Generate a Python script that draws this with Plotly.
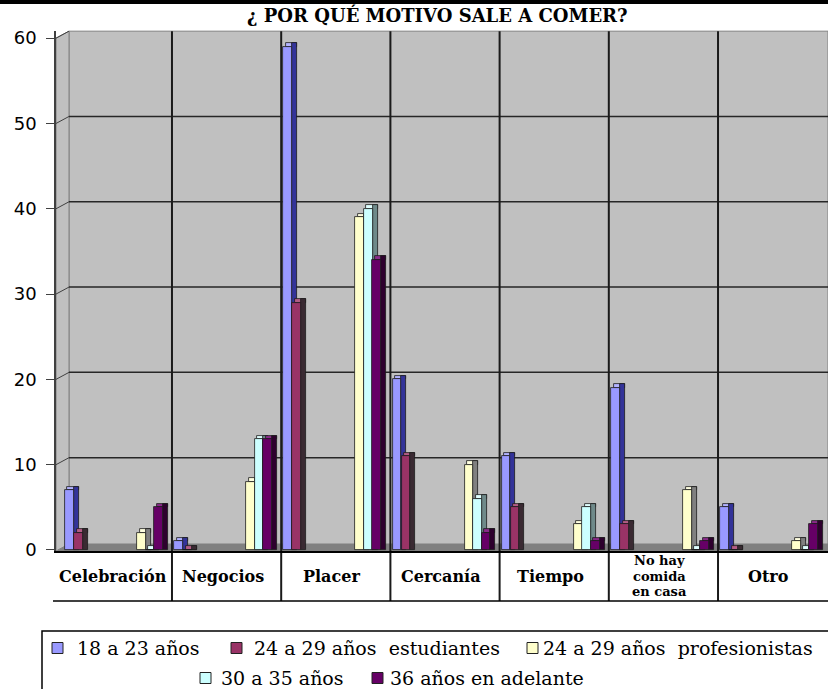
import plotly.graph_objects as go

# ---- data -----------------------------------------------------------------
CATEGORIES = ["Celebración", "Negocios", "Placer", "Cercanía", "Tiempo",
              "No hay comida en casa", "Otro"]
SERIES = ["18 a 23 años", "24 a 29 años\u00a0 estudiantes",
          "24 a 29 años\u00a0 profesionistas", "30 a 35 años",
          "36 años en adelante"]
V_18_23 = [7, 1, 59, 20, 11, 19, 5]
V_24_29_EST = [2, 0, 29, 11, 5, 3, 0]
V_24_29_PROF = [2, 8, 39, 10, 3, 7, 1]
V_30_35 = [0, 13, 40, 6, 5, 0, 0]
V_36_MAS = [5, 13, 34, 2, 1, 1, 3]
Y_TICKS = [0, 10, 20, 30, 40, 50, 60]
TITLE = "¿ POR QUÉ MOTIVO SALE A COMER?"

VALUES = [V_18_23, V_24_29_EST, V_24_29_PROF, V_30_35, V_36_MAS]

# ---- styling ----------------------------------------------------------------
FRONT = ["#9999FF", "#993366", "#FFFFCC", "#CCFFFF", "#660066"]
SIDE = ["#333399", "#3a2a32", "#808080", "#6f8a8a", "#2e002e"]
CAP = ["#b3b3ff", "#b35c85", "#ffffe0", "#e0ffff", "#8a2a8a"]
OFFSETS = [-0.48, -0.397, 0.18, 0.258, 0.336]
BAR_W = 0.079

W, H = 828, 689
PL, PR, PT, PB = 56, 828, 31, 551
X_RANGE = [-0.562, 6.507]
Y_RANGE = [-0.12, 60.84]
DEPTH_X, DEPTH_Y = 13, 7          # wall depth in pixels
SX = (PR - PL) / (X_RANGE[1] - X_RANGE[0])
SY = (PB - PT) / (Y_RANGE[1] - Y_RANGE[0])
DX = 5 / SX                       # bar side depth (x units)
DY = 3.5 / SY                     # bar side depth (y units)


def px_x(v):
    return PL + (v - X_RANGE[0]) * SX


def px_y(v):
    return PB - (v - Y_RANGE[0]) * SY


def pa_x(px):
    return (px - PL) / (PR - PL)


def pa_y(py):
    return (PB - py) / (PB - PT)


def path(points):
    s = "M " + " L ".join(f"{pa_x(x):.5f},{pa_y(y):.5f}" for x, y in points)
    return s + " Z"


fig = go.Figure()
xs = list(range(len(CATEGORIES)))

for i, vals in enumerate(VALUES):
    outline = dict(color="#1a1a1a", width=0.8)
    # top face
    fig.add_trace(go.Bar(
        x=xs, y=[DY] * len(xs), base=vals, width=BAR_W + DX / 2,
        offset=OFFSETS[i] + DX / 2, marker=dict(color=CAP[i], line=outline),
        showlegend=False, hoverinfo="skip"))
    # right side face
    fig.add_trace(go.Bar(
        x=xs, y=[v + DY for v in vals], base=0, width=DX,
        offset=OFFSETS[i] + BAR_W, marker=dict(color=SIDE[i], line=outline),
        showlegend=False, hoverinfo="skip"))
    # front face
    fig.add_trace(go.Bar(
        x=xs, y=vals, width=BAR_W, offset=OFFSETS[i], name=SERIES[i],
        marker=dict(color=FRONT[i], line=outline), showlegend=False))

shapes = []
back_l = PL + DEPTH_X
back_b = PB - DEPTH_Y
top_y = px_y(60) - DEPTH_Y

# black band at the very top
shapes.append(dict(type="rect", xref="paper", yref="paper",
                   x0=pa_x(0), x1=pa_x(W), y0=pa_y(0), y1=pa_y(4),
                   fillcolor="black", line=dict(width=0), layer="below"))
# back wall
shapes.append(dict(type="rect", xref="paper", yref="paper",
                   x0=pa_x(back_l), x1=pa_x(PR), y0=pa_y(back_b), y1=pa_y(top_y),
                   fillcolor="#C0C0C0", line=dict(color="#808080", width=1),
                   layer="below"))
# left wall
shapes.append(dict(type="path", xref="paper", yref="paper",
                   path=path([(PL, PB), (PL, px_y(60)), (back_l, top_y),
                              (back_l, back_b)]),
                   fillcolor="#C0C0C0", line=dict(color="#808080", width=1),
                   layer="below"))
# floor
shapes.append(dict(type="path", xref="paper", yref="paper",
                   path=path([(PL, PB), (back_l, back_b), (PR, back_b), (PR, PB)]),
                   fillcolor="#808080", line=dict(width=0), layer="below"))
# horizontal gridlines on back and side walls
for v in Y_TICKS[1:]:
    fy = px_y(v)
    by = fy - DEPTH_Y
    if v < 60:
        shapes.append(dict(type="line", xref="paper", yref="paper",
                           x0=pa_x(back_l), x1=pa_x(PR), y0=pa_y(by), y1=pa_y(by),
                           line=dict(color="#262626", width=1.5), layer="below"))
    shapes.append(dict(type="line", xref="paper", yref="paper",
                       x0=pa_x(PL), x1=pa_x(back_l), y0=pa_y(fy), y1=pa_y(by),
                       line=dict(color="#404040", width=1), layer="below"))
# category separators (back wall down through the label table)
TABLE_B = 601
for k in range(len(CATEGORIES) - 1):
    bx = px_x(k + 0.5)
    shapes.append(dict(type="line", xref="paper", yref="paper",
                       x0=pa_x(bx), x1=pa_x(bx), y0=pa_y(TABLE_B), y1=pa_y(top_y),
                       line=dict(color="#1a1a1a", width=2), layer="below"))
shapes.append(dict(type="line", xref="paper", yref="paper",
                   x0=pa_x(53), x1=pa_x(PR), y0=pa_y(TABLE_B), y1=pa_y(TABLE_B),
                   line=dict(color="black", width=1.5), layer="below"))

# legend box and swatches
shapes.append(dict(type="rect", xref="paper", yref="paper",
                   x0=pa_x(42), x1=pa_x(840), y0=pa_y(700), y1=pa_y(631),
                   line=dict(color="black", width=1.5), fillcolor="rgba(0,0,0,0)",
                   layer="below"))
LEGEND_POS = [(52, 75, 648), (231, 252, 648), (527, 541, 648),
              (200, 219, 678), (372, 388, 678)]
annotations = []
for i, (sq_x, tx, ry) in enumerate(LEGEND_POS):
    shapes.append(dict(type="rect", xref="paper", yref="paper",
                       x0=pa_x(sq_x), x1=pa_x(sq_x + 11),
                       y0=pa_y(ry + 5.5), y1=pa_y(ry - 5.5),
                       fillcolor=FRONT[i], line=dict(color="#222", width=1),
                       layer="below"))
    annotations.append(dict(xref="paper", yref="paper", x=pa_x(tx), y=pa_y(ry),
                            xanchor="left", yanchor="middle", showarrow=False,
                            text=SERIES[i],
                            font=dict(family="DejaVu Serif", size=19, color="black")))

# category labels inside the table
LABEL_LINES = {"No hay comida en casa": ["No hay", "comida", "en casa"]}
for k, cat in enumerate(CATEGORIES):
    lines = LABEL_LINES.get(cat, [cat])
    n = len(lines)
    size = 16 if n == 1 else 13
    step = 15.5
    for j, ln in enumerate(lines):
        cy = 576 + (j - (n - 1) / 2) * step
        annotations.append(dict(xref="x", yref="paper", x=k, y=pa_y(cy),
                                xanchor="center", yanchor="middle", xshift=-4,
                                showarrow=False, text=ln,
                                font=dict(family="DejaVu Serif", size=size,
                                          color="black", weight="bold")))

# title
annotations.append(dict(xref="paper", yref="paper", x=pa_x(437), y=pa_y(15),
                        xanchor="center", yanchor="middle", showarrow=False,
                        text=TITLE,
                        font=dict(family="DejaVu Serif", size=18, color="black",
                                  weight="bold")))

fig.update_layout(
    width=W, height=H, autosize=False,
    margin=dict(l=PL, r=W - PR, t=PT, b=H - PB, pad=0),
    paper_bgcolor="white", plot_bgcolor="rgba(0,0,0,0)",
    barmode="overlay", bargap=0,
    shapes=shapes, annotations=annotations, showlegend=False,
    xaxis=dict(range=X_RANGE, showgrid=False, zeroline=False,
               showticklabels=False, ticks="", showline=True,
               linecolor="black", linewidth=1.5, fixedrange=True),
    yaxis=dict(range=Y_RANGE, tickvals=Y_TICKS, showgrid=False, zeroline=False,
               showline=True, linecolor="#404040", linewidth=1.5,
               ticks="outside", ticklen=8, tickcolor="#404040", tickwidth=1,
               ticklabelstandoff=6,
               tickfont=dict(family="DejaVu Sans", size=18, color="black"),
               fixedrange=True),
)

fig.write_html("out.html")
